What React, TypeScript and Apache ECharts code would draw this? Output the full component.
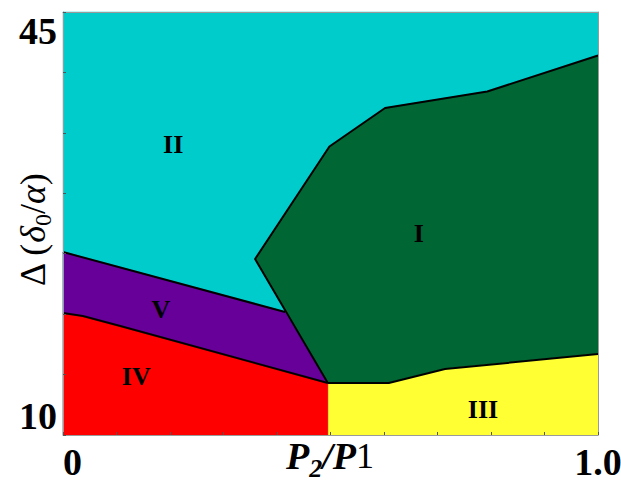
import React, { useEffect, useRef } from 'react';
import * as echarts from 'echarts';

const xRange = [0, 1];
const yRange = [10, 45];
const xTickInterval = 0.1;
const yTickInterval = 5;
const xTickLabelValues = [0, 1];
const xTickLabelTexts = ['0', '1.0'];
const yTickLabelValues = [10, 45];
const yTickLabelTexts = ['10', '45'];
const xAxisTitle = '{bi|P}{sub|2}{bi|/P}{b|1}';
const yAxisTitle = '{n|Δ (}{i|δ}{sub|0}{n|/}{i|α}{n|)}';

// region polygons, [P2/P1, Δ]
const regionII = [[0, 10], [1, 10], [1, 45], [0, 45]];
const regionI = [[0.495, 14.3], [0.359, 24.56], [0.498, 33.87], [0.602, 37.06], [0.793, 38.42], [1, 41.4], [1, 16.7], [0.714, 15.46], [0.609, 14.3]];
const regionIII = [[0.495, 10], [0.495, 14.3], [0.609, 14.3], [0.714, 15.46], [1, 16.7], [1, 10]];
const regionV = [[0, 25.14], [0.415, 20.18], [0.495, 14.3], [0.107, 19.02], [0.037, 19.85], [0, 20.09]];
const regionIV = [[0, 10], [0, 20.09], [0.037, 19.85], [0.107, 19.02], [0.495, 14.3], [0.495, 10]];

const regionNames = ['II', 'I', 'III', 'V', 'IV'];
const regionPolygons = [regionII, regionI, regionIII, regionV, regionIV];
const regionLabelPositions = [[0.206, 34.0], [0.665, 26.7], [0.785, 12.1], [0.183, 20.4], [0.137, 14.8]];
const regionColors = ['#00CCCC', '#006633', '#FFFF33', '#660099', '#FF0000'];

// boundary lines
const boundaryIIV = [[0, 25.14], [0.415, 20.18]];
const boundaryVIV = [[0, 20.09], [0.037, 19.85], [0.107, 19.02], [0.495, 14.3]];
const boundaryI = [[0.495, 14.3], [0.359, 24.56], [0.498, 33.87], [0.602, 37.06], [0.793, 38.42], [1, 41.4]];
const boundaryIIII = [[0.495, 14.3], [0.609, 14.3], [0.714, 15.46], [1, 16.7]];
const boundaries = [boundaryIIV, boundaryVIV, boundaryI, boundaryIIII];

const SERIF = '"Liberation Serif", "Times New Roman", serif';

export default function App() {
  const ref = useRef<HTMLDivElement>(null);
  useEffect(() => {
    const chart = echarts.init(ref.current!, null, { renderer: 'svg' });
    const labelFmt = (vals: number[], texts: string[]) => (v: number) => {
      const i = vals.findIndex((x) => Math.abs(x - v) < 1e-9);
      return i >= 0 ? texts[i] : '';
    };
    const frameLine = { show: true, onZero: false, lineStyle: { color: '#9a9a9a', width: 1 } };
    const tick = { show: true, inside: true, length: 3, lineStyle: { color: '#555', width: 1 } };
    const tickFont = { fontFamily: SERIF, fontWeight: 'bold' as const, fontSize: 38, color: '#000' };
    const option: any = {
      animation: false,
      grid: { left: 63, top: 12, right: 23, bottom: 48, containLabel: false, outerBoundsMode: 'none' },
      graphic: [
        {
          type: 'text', x: 330, y: 456, z: 20,
          style: {
            text: xAxisTitle, align: 'center', verticalAlign: 'middle',
            rich: {
              bi: { fontFamily: SERIF, fontWeight: 'bold', fontStyle: 'italic', fontSize: 38, fill: '#000' },
              b: { fontFamily: SERIF, fontWeight: 'normal', fontSize: 36, fill: '#000' },
              sub: { fontFamily: SERIF, fontWeight: 'bold', fontStyle: 'italic', fontSize: 26, fill: '#000', padding: [24, 0, 0, 0] },
            },
          },
        },
        {
          type: 'text', x: 33, y: 230, rotation: Math.PI / 2, z: 20,
          style: {
            text: yAxisTitle, align: 'center', verticalAlign: 'middle',
            rich: {
              n: { fontFamily: SERIF, fontSize: 36, fill: '#000' },
              i: { fontFamily: SERIF, fontStyle: 'italic', fontSize: 36, fill: '#000' },
              sub: { fontFamily: SERIF, fontSize: 24, fill: '#000', padding: [20, 0, 0, 0] },
            },
          },
        },
      ],
      xAxis: [
        {
          type: 'value', min: xRange[0], max: xRange[1], interval: xTickInterval, position: 'bottom', z: 10,
          axisLine: frameLine, axisTick: tick, splitLine: { show: false },
          axisLabel: { ...tickFont, margin: 8, formatter: labelFmt(xTickLabelValues, xTickLabelTexts), alignMinLabel: 'left', showMinLabel: true, showMaxLabel: true },
        },
        {
          type: 'value', min: xRange[0], max: xRange[1], interval: xTickInterval, position: 'top', z: 10,
          axisLine: frameLine, axisTick: { show: false }, axisLabel: { show: false }, splitLine: { show: false },
        },
      ],
      yAxis: [
        {
          type: 'value', min: yRange[0], max: yRange[1], interval: yTickInterval, position: 'left', z: 10,
          axisLine: frameLine, axisTick: tick, splitLine: { show: false },
          axisLabel: { ...tickFont, margin: 6, formatter: labelFmt(yTickLabelValues, yTickLabelTexts), verticalAlignMinLabel: 'bottom', verticalAlignMaxLabel: 'top', showMinLabel: true, showMaxLabel: true },
        },
        {
          type: 'value', min: yRange[0], max: yRange[1], interval: yTickInterval, position: 'right', z: 10,
          axisLine: frameLine, axisTick: { show: false }, axisLabel: { show: false }, splitLine: { show: false },
        },
      ],
      series: [
        {
          type: 'custom',
          xAxisIndex: 0, yAxisIndex: 0,
          data: regionLabelPositions.map((p) => p),
          renderItem: (params: any, api: any) => {
            const i = params.dataIndex;
            const pts = regionPolygons[i].map((p) => api.coord(p));
            const lp = api.coord(regionLabelPositions[i]);
            return {
              type: 'group',
              children: [
                { type: 'polygon', shape: { points: pts }, style: { fill: regionColors[i], stroke: regionColors[i], lineWidth: 0.5 } },
                {
                  type: 'text', x: lp[0], y: lp[1], z2: 5,
                  style: { text: regionNames[i], fill: '#000', fontFamily: SERIF, fontWeight: 'bold', fontSize: 26, align: 'center', verticalAlign: 'middle' },
                },
              ],
            };
          },
          z: 2,
        },
        ...boundaries.map((b) => ({
          type: 'line',
          xAxisIndex: 0, yAxisIndex: 0,
          data: b,
          showSymbol: false,
          symbol: 'none',
          lineStyle: { color: '#000', width: 2 },
          z: 3,
          silent: true,
        })),
      ],
    };
    chart.setOption(option);
    return () => chart.dispose();
  }, []);
  return <div ref={ref} style={{ position: 'fixed', left: 0, top: 0, width: 621, height: 483, background: '#fff' }} />;
}
